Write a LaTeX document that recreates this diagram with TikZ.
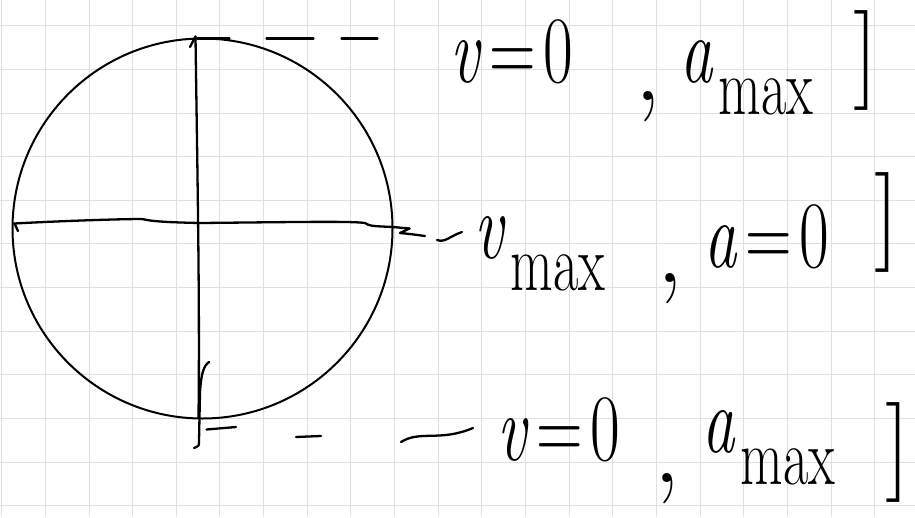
\documentclass[tikz,border=0pt]{standalone}
\usetikzlibrary{calc}
\newcommand\mysub[1]{\hspace{0.08em}\raisebox{-0.34em}{\fontsize{58}{58}\selectfont #1}}
\newcommand\myeq{\hspace{0.12em}=\hspace{0.12em}}
\newcommand\tall[1]{\scalebox{0.95}[1.4]{#1}}
\tikzset{
  gridline/.style={draw=black!12, line width=1pt},
  ink/.style={draw=black, line width=2.3pt, line cap=round, line join=round},
  rim/.style={draw=black, line width=2pt, circle, inner sep=0pt, minimum size=380pt},
  lbl/.style={inner sep=0pt, font=\fontsize{68}{68}\selectfont},
  cma/.style={inner sep=0pt, font=\fontsize{110}{110}\selectfont},
  brk/.style={inner sep=0pt, font=\fontsize{100}{100}\selectfont},
}
\begin{document}
\begin{tikzpicture}[x=1pt,y=-1pt]
\fill[white] (0,0) rectangle (915,517);
\useasboundingbox (0,0) rectangle (915,517);
% grid paper (spacing 43.65)
\foreach \i in {0,...,20} \draw[gridline] ({1.7+43.65*\i},0) -- ({1.7+43.65*\i},517);
\foreach \j in {0,...,11} \draw[gridline] (0,{25.7+43.65*\j}) -- (915,{25.7+43.65*\j});

% circle
\node[rim] (c) at (202.5,228.5) {};

% labels
\node[lbl, anchor=base west] (t1) at (450,82) {\tall{\textit{v}\myeq 0}};
\node[cma, anchor=base] (t2) at (648,100) {,};
\node[lbl, anchor=base west] (t3) at (680,82) {\tall{\textit{a}\mysub{max}}};
\node[brk] (t4) at (866,60) {]};

\node[lbl, anchor=base west] (m1) at (474,258) {\tall{\textit{v}\mysub{max}}};
\node[cma, anchor=base] (m2) at (670,282) {,};
\node[lbl, anchor=base west] (m3) at (704,267) {\tall{\textit{a}\myeq 0}};
\node[brk] (m4) at (887,222) {]};

\node[lbl, anchor=base west] (b1) at (497,460) {\tall{\textit{v}\myeq 0}};
\node[cma, anchor=base] (b2) at (667,482) {,};
\node[lbl, anchor=base west] (b3) at (702,452) {\tall{\textit{a}\mysub{max}}};
\node[brk] (b4) at (898,452) {]};

% axis end points
\coordinate (vt) at ($(c.north)+(-7,-1)$);
\coordinate (vb) at ($(c.south)+(-4,-2)$);
\coordinate (hw) at ($(c.west)+(3,-5)$);
\coordinate (he) at ($(c.east)+(16,0)$);

% vertical axis
\draw[ink] (vt) .. controls (197,150) and (200,300) .. (vb);
\draw[ink] (190,47) -- (vt);
\draw[ink] (209,362) .. controls (203,366) and (201,376) .. (200,392) -- (199,441) .. controls (199,446) .. (194,448);

% horizontal axis
\draw[ink] (hw) .. controls (60,221) and (120,219) .. (142,219) .. controls (148,220) and (150,222) .. (200,223) .. controls (300,222) and (350,221) .. (365,223) .. controls (370,226) .. (393,227) -- (he);
\draw[ink] (hw) -- (18,231);

% leaders
\coordinate (ta) at ($(vt)+(2,2)$);
\coordinate (tb) at ($(t1.base west)+(-72,0)$);
\draw[ink, dash pattern=on 32pt off 37pt on 47pt off 28pt on 36pt] (ta) -- (tb |- ta);

\draw[ink] (he) -- (400,233) .. controls (410,234) .. (425,236);
\coordinate (mc) at ($(m1.base west)+(-12,-26)$);
\draw[ink] (437,240) .. controls (445,243) and (450,236) .. (mc);

\coordinate (ba) at ($(vb)+(8,12)$);
\draw[ink] (ba) -- (236,427);
\draw[ink] (296,437) -- (321,436);
\coordinate (bc) at ($(b1.base west)+(-24,-32)$);
\draw[ink] (401,442) .. controls (420,430) and (440,442) .. (bc);
\end{tikzpicture}
\end{document}
